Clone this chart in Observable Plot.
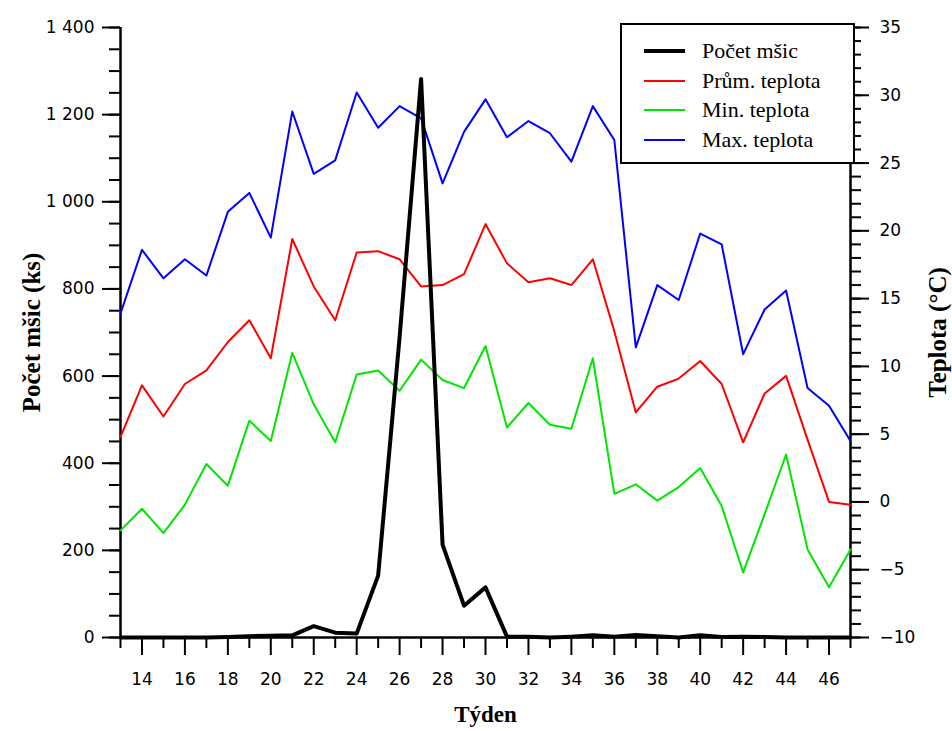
<!DOCTYPE html>
<html>
<head>
<meta charset="utf-8">
<script src="https://cdn.jsdelivr.net/npm/d3@7"></script>
<script src="https://cdn.jsdelivr.net/npm/@observablehq/plot@0.6"></script>
<style>
  html, body { margin: 0; padding: 0; background: #fff; }
  #wrap { position: relative; width: 952px; height: 731px; }
  #legend {
    position: absolute; left: 620px; top: 23px; width: 231px; height: 137px;
    border: 2px solid #000; background: #fff; font-family: "Liberation Serif", serif; font-size: 22px;
  }
  .row { position: absolute; left: 0; height: 30px; width: 100%; }
  .row .sw { position: absolute; left: 22px; width: 41px; }
  .row .lb { position: absolute; left: 80px; top: 0; line-height: 30px; white-space: nowrap; }
</style>
</head>
<body>
<div id="wrap"></div>
<script>
// ---- data ----
const weeks = [13,14,15,16,17,18,19,20,21,22,23,24,25,26,27,28,29,30,31,32,33,34,35,36,37,38,39,40,41,42,43,44,45,46,47];
const aphids = [0,0,0,0,0,1,3,4,5,26,11,9,142,690,1282,213,73,115,2,2,0,2,5,2,6,3,0,5,1,2,1,0,0,0,0];
const tAvg = [4.8,8.6,6.3,8.7,9.7,11.8,13.4,10.6,19.4,15.9,13.4,18.4,18.5,17.9,15.9,16.0,16.8,20.5,17.6,16.2,16.5,16.0,17.9,12.6,6.6,8.5,9.1,10.4,8.7,4.4,8.0,9.3,4.6,0.0,-0.2];
const tMin = [-2.1,-0.5,-2.3,-0.2,2.8,1.2,6.0,4.5,11.0,7.2,4.4,9.4,9.7,8.2,10.5,9.0,8.4,11.5,5.5,7.3,5.7,5.4,10.6,0.6,1.3,0.1,1.1,2.5,-0.3,-5.2,-0.9,3.5,-3.5,-6.3,-3.5];
const tMax = [13.9,18.6,16.5,17.9,16.7,21.4,22.8,19.5,28.8,24.2,25.2,30.2,27.6,29.2,28.3,23.5,27.3,29.7,26.9,28.1,27.2,25.1,29.2,26.7,11.4,16.0,14.9,19.8,19.0,10.9,14.2,15.6,8.4,7.1,4.5];

const leftTicks = [0,200,400,600,800,1000,1200,1400];
const leftMinor = [0,50,100,150,200,250,300,350,400,450,500,550,600,650,700,750,800,850,900,950,1000,1050,1100,1150,1200,1250,1300,1350,1400];
const rightTicks = [-10,-5,0,5,10,15,20,25,30,35];
const rightMinor = [-10,-9,-8,-7,-6,-5,-4,-3,-2,-1,0,1,2,3,4,5,6,7,8,9,10,11,12,13,14,15,16,17,18,19,20,21,22,23,24,25,26,27,28,29,30,31,32,33,34,35];
const xMajor = [14,16,18,20,22,24,26,28,30,32,34,36,38,40,42,44,46];
const xMinor = [13,15,17,19,21,23,25,27,29,31,33,35,37,39,41,43,45,47];

const seriesNames = ["Počet mšic", "Prům. teplota", "Min. teplota", "Max. teplota"];
const seriesColors = ["#000000", "#ff0000", "#00e600", "#0000ff"];
const seriesWidths = [4, 2, 2, 2];

// temperature mapped onto the count scale (-10..35 °C ↔ 0..1400)
const T0 = -10, T1 = 35, C1 = 1400;
const toY = t => (t - T0) * C1 / (T1 - T0);
const fromY = v => v * (T1 - T0) / C1 + T0;

const loc = d3.formatLocale({decimal: ",", thousands: "\u00a0", grouping: [3], minus: "\u2212"});
const fmtCount = loc.format(",d");
const fmtTemp = loc.format("d");
const none = () => "";

const rows = weeks.map((w, i) => ({w, n: aphids[i], avg: toY(tAvg[i]), min: toY(tMin[i]), max: toY(tMax[i])}));

const tickFont = {fontFamily: "DejaVu Sans, Verdana, sans-serif", fontSize: 17};
const titleFont = {fontFamily: "Liberation Serif, serif", fontWeight: "bold", textAnchor: "middle"};

const chart = Plot.plot({
  width: 952,
  height: 731,
  marginLeft: 120,
  marginRight: 102,
  marginTop: 27,
  marginBottom: 94,
  style: {background: "#fff", color: "#000", fontFamily: "DejaVu Sans, sans-serif", fontSize: "17px", overflow: "visible"},
  x: {domain: [13, 47], axis: null},
  y: {domain: [0, 1400], axis: null},
  marks: [
    // axes
    Plot.axisY(leftMinor, {anchor: "left", tickSize: 11, tickFormat: none, label: null, strokeWidth: 2}),
    Plot.axisY(leftTicks, {anchor: "left", tickSize: 18, tickPadding: 8, tickFormat: fmtCount, label: null, strokeWidth: 2, ...tickFont}),
    Plot.axisY(rightMinor.map(toY), {anchor: "right", tickSize: 10, tickFormat: none, label: null, strokeWidth: 2}),
    Plot.axisY(rightTicks.map(toY), {anchor: "right", tickSize: 18, tickPadding: 11, tickFormat: v => fmtTemp(Math.round(fromY(v))), label: null, strokeWidth: 2, ...tickFont}),
    Plot.axisX(xMinor, {anchor: "bottom", tickSize: 11, tickFormat: none, label: null, strokeWidth: 2}),
    Plot.axisX(xMajor, {anchor: "bottom", tickSize: 18, tickPadding: 17, tickFormat: d => String(d), label: null, strokeWidth: 2, ...tickFont}),
    Plot.ruleX([13], {stroke: "#000", strokeWidth: 2.5}),
    Plot.ruleX([47], {stroke: "#000", strokeWidth: 2.5}),
    Plot.ruleY([0], {stroke: "#000", strokeWidth: 2.5}),
    // series
    Plot.line(rows, {x: "w", y: "max", stroke: seriesColors[3], strokeWidth: seriesWidths[3]}),
    Plot.line(rows, {x: "w", y: "min", stroke: seriesColors[2], strokeWidth: seriesWidths[2]}),
    Plot.line(rows, {x: "w", y: "avg", stroke: seriesColors[1], strokeWidth: seriesWidths[1]}),
    Plot.line(rows, {x: "w", y: "n", stroke: seriesColors[0], strokeWidth: seriesWidths[0]}),
    // axis titles
    Plot.text(["Týden"], {frameAnchor: "bottom", dy: 84, fontSize: 23, ...titleFont}),
    Plot.text(["Počet mšic (ks)"], {frameAnchor: "left", dx: -89, rotate: -90, fontSize: 25, ...titleFont}),
    Plot.text(["Teplota (°C)"], {frameAnchor: "right", dx: 87, rotate: -90, fontSize: 25, ...titleFont})
  ]
});

const wrap = document.getElementById("wrap");
wrap.appendChild(chart);

// legend
const legend = document.createElement("div");
legend.id = "legend";
seriesNames.forEach((name, i) => {
  const r = document.createElement("div");
  r.className = "row";
  r.style.top = (11 + i * 29.5) + "px";
  const sw = document.createElement("div");
  sw.className = "sw";
  sw.style.height = seriesWidths[i] + "px";
  sw.style.top = (15 - seriesWidths[i] / 2) + "px";
  sw.style.background = seriesColors[i];
  const lb = document.createElement("div");
  lb.className = "lb";
  lb.textContent = name;
  r.appendChild(sw); r.appendChild(lb);
  legend.appendChild(r);
});
wrap.appendChild(legend);
</script>
</body>
</html>
